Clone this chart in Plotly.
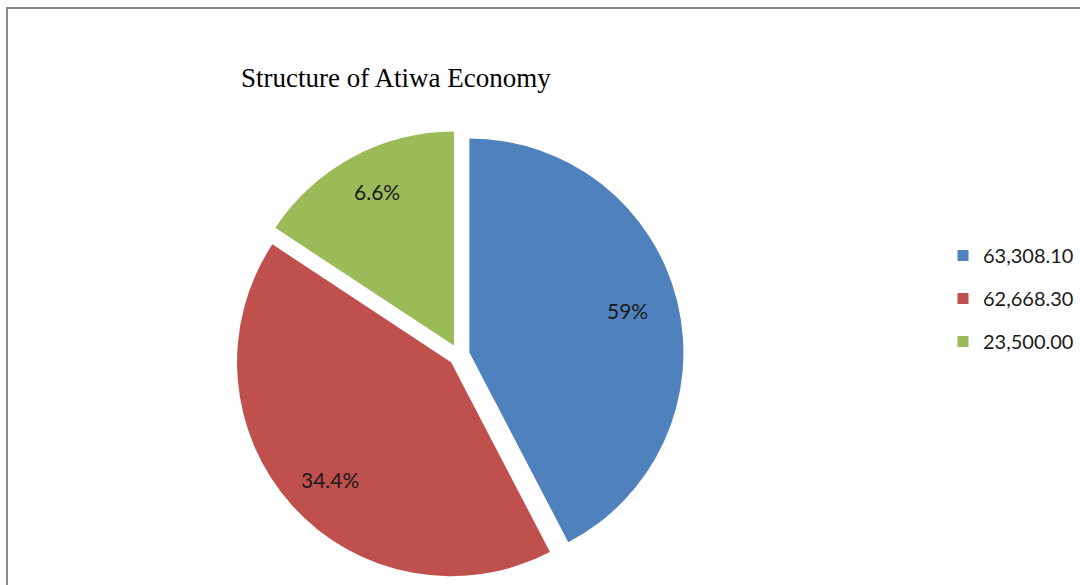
import numpy as np
import plotly.graph_objects as go

labels = ["63,308.10", "62,668.30", "23,500.00"]
values = [63308.10, 62668.30, 23500.00]
pct_text = ["59%", "34.4%", "6.6%"]
colors = ["#4F81BD", "#C0504D", "#9BBB59"]
title_text = "Structure of Atiwa Economy"

W, H = 1080, 585
PULL = 0.05
dom_x = [234.3 / W, 683.7 / W]
dom_y = [5.3 / H, 454.7 / H]

fig = go.Figure()
fig.add_trace(go.Pie(
    labels=labels,
    values=values,
    textinfo="none",
    marker=dict(colors=colors, line=dict(width=0)),
    sort=False,
    direction="clockwise",
    rotation=0,
    pull=[PULL] * len(values),
    showlegend=False,
    hoverinfo="label+value",
    domain=dict(x=dom_x, y=dom_y),
))

for lab, col in zip(labels, colors):
    fig.add_trace(go.Scatter(
        x=[None], y=[None], mode="markers", name=lab,
        legendgroup=lab,
        marker=dict(symbol="square", size=11, color=col),
        hoverinfo="skip",
    ))

# slice labels placed along each slice's mid angle (derived from the data)
vals = np.array(values)
frac = vals / vals.sum()
mid = (np.cumsum(frac) - frac / 2) * 2 * np.pi
cx = (dom_x[0] + dom_x[1]) / 2 * W
cy = (1 - (dom_y[0] + dom_y[1]) / 2) * H
R = min((dom_x[1] - dom_x[0]) * W, (dom_y[1] - dom_y[0]) * H) / 2 / (1 + PULL)
rtx = 0.81 * R
rty = 0.87 * R
annotations = []
for t, a in zip(pct_text, mid):
    px = cx + rtx * np.sin(a)
    py = cy - rty * np.cos(a)
    annotations.append(dict(
        text=t, x=px / W, y=1 - py / H, xref="paper", yref="paper",
        xanchor="center", yanchor="middle", showarrow=False,
        font=dict(family="Lato", size=21, color="#1a1a1a"),
    ))
annotations.append(dict(
    text=title_text, x=396 / W, y=1 - 78 / H, xref="paper", yref="paper",
    xanchor="center", yanchor="middle", showarrow=False,
    font=dict(family="Liberation Serif", size=27, color="#000000"),
))

fig.update_layout(
    width=W, height=H,
    margin=dict(l=0, r=0, t=0, b=0),
    paper_bgcolor="white",
    plot_bgcolor="white",
    xaxis=dict(visible=False),
    yaxis=dict(visible=False),
    legend=dict(
        x=943 / W, y=1 - 236 / H, xanchor="left", yanchor="top",
        font=dict(family="Lato", size=20, color="#1a1a1a"),
        tracegroupgap=14,
        itemsizing="trace",
        bgcolor="rgba(0,0,0,0)",
    ),
    annotations=annotations,
    shapes=[dict(
        type="rect", xref="paper", yref="paper",
        x0=7 / W, x1=1.02, y0=-0.02, y1=1 - 8 / H,
        line=dict(color="#8a8a8a", width=2), fillcolor="rgba(0,0,0,0)",
        layer="below",
    )],
)

fig.write_html("out.html")
